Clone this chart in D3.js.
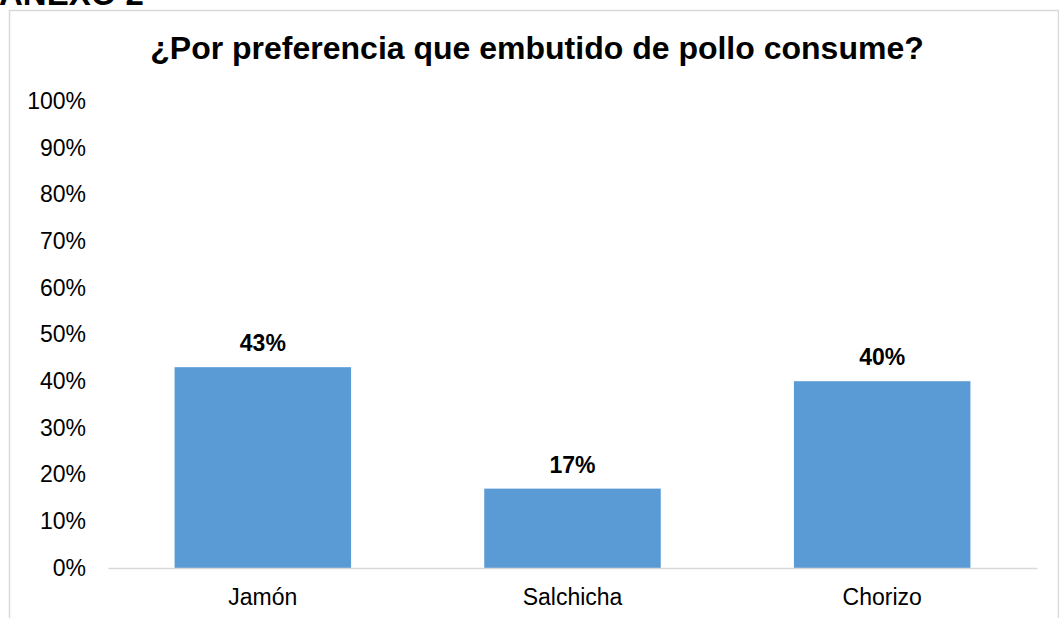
<!DOCTYPE html>
<html>
<head>
<meta charset="utf-8">
<script src="https://cdn.jsdelivr.net/npm/d3@7"></script>
<style>
  body { margin: 0; background: #fff; }
  text { font-family: "Liberation Sans", Arial, sans-serif; }
</style>
</head>
<body>
<div id="chart"></div>
<script>
// data
const categories = ["Jamón", "Salchicha", "Chorizo"];
const values = [0.43, 0.17, 0.40];
const yTicks = [0, 0.1, 0.2, 0.3, 0.4, 0.5, 0.6, 0.7, 0.8, 0.9, 1.0];

const W = 1059, H = 618;
const margin = {top: 101, right: 22, bottom: 50, left: 108};
const width = W - margin.left - margin.right,
    height = 568 - margin.top;

const svg = d3.select("#chart").append("svg")
    .attr("width", W)
    .attr("height", H);

// page heading above the chart box (only its lower edge shows in the picture)
svg.append("text")
    .attr("x", -1)
    .attr("y", 5)
    .style("font-size", "33px")
    .style("font-weight", "bold")
    .text("ANEXO 2");

// chart box border (bottom is outside the picture)
svg.append("path")
    .attr("d", "M9.5,620 V10.5 H1058.5 V620")
    .attr("fill", "none")
    .attr("stroke", "#d9d9d9")
    .attr("stroke-width", 1.5);

svg.append("text")
    .attr("x", 537)
    .attr("y", 59)
    .attr("text-anchor", "middle")
    .style("font-size", "32px")
    .style("font-weight", "bold")
    .text("¿Por preferencia que embutido de pollo consume?");

const g = svg.append("g")
    .attr("transform", `translate(${margin.left},${margin.top})`);

const x = d3.scaleBand()
    .domain(categories)
    .range([0, width])
    .paddingInner(0.43)
    .paddingOuter(0.215);

const y = d3.scaleLinear()
    .domain([0, 1])
    .range([height, 0]);

// y axis labels only
g.append("g")
    .call(d3.axisLeft(y).tickValues(yTicks).tickFormat(d3.format(".0%")).tickSize(0).tickPadding(22))
    .call(a => a.select(".domain").remove())
    .selectAll("text")
    .style("font-size", "23px")
    .style("font-family", "Liberation Sans, Arial, sans-serif")
    .attr("fill", "#000");

// bars
g.selectAll("rect.bar")
    .data(values)
    .join("rect")
    .attr("class", "bar")
    .attr("x", (d, i) => x(categories[i]))
    .attr("y", d => y(d))
    .attr("width", x.bandwidth())
    .attr("height", d => height - y(d))
    .attr("fill", "#5b9bd5");

// baseline and category labels
g.append("g")
    .attr("transform", `translate(0,${height})`)
    .call(d3.axisBottom(x).tickSize(0).tickPadding(21))
    .call(a => a.select(".domain").attr("stroke", "#d9d9d9").attr("stroke-width", 1.5))
    .selectAll("text")
    .style("font-size", "23px")
    .style("font-family", "Liberation Sans, Arial, sans-serif")
    .attr("fill", "#000");

// value labels
g.selectAll("text.val")
    .data(values)
    .join("text")
    .attr("class", "val")
    .attr("x", (d, i) => x(categories[i]) + x.bandwidth() / 2)
    .attr("y", d => y(d) - 16)
    .attr("text-anchor", "middle")
    .style("font-size", "23px")
    .style("font-weight", "bold")
    .text(d => d3.format(".0%")(d));
</script>
</body>
</html>
